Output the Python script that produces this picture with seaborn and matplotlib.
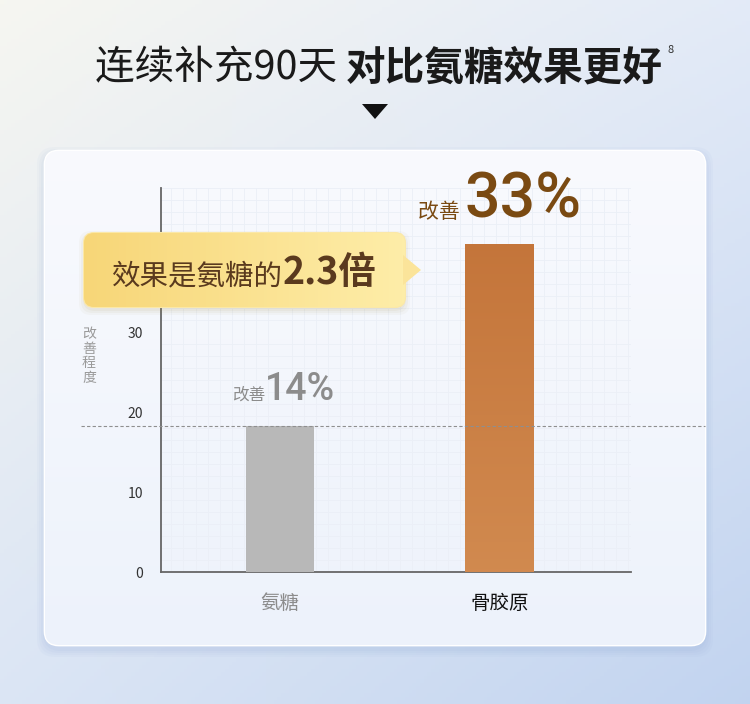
import numpy as np
import pandas as pd
import matplotlib.pyplot as plt
import seaborn as sns
from matplotlib.patches import FancyBboxPatch, Polygon
from matplotlib.ticker import MultipleLocator

# Data
categories = ["氨糖", "骨胶原"]
bar_heights = [18.2, 41.0]          # heights as drawn against the 0-30 axis
value_labels = ["14%", "33%"]
y_ticks = [0, 10, 20, 30]
title_left = "连续补充90天 "
title_right = "对比氨糖效果更好"
callout_text = "效果是氨糖的"
callout_value = "2.3倍"

sns.set_style("white")
plt.rcParams["font.family"] = ["Noto Sans CJK SC", "DejaVu Sans"]
NUM_FONT = ["Roboto", "Noto Sans CJK SC", "DejaVu Sans"]

W, H = 750, 704
fig = plt.figure(figsize=(7.5, 7.04), dpi=100)

# background axes in pixel coordinates (y down)
bg = fig.add_axes([0, 0, 1, 1], zorder=0)
bg.set_xlim(0, W)
bg.set_ylim(H, 0)
bg.axis("off")

# gradient background
xx, yy = np.meshgrid(np.linspace(0, 1, 200), np.linspace(0, 1, 200))
c_tl = np.array([0.965, 0.965, 0.945])
c_tr = np.array([0.89, 0.92, 0.97])
c_bl = np.array([0.86, 0.90, 0.96])
c_br = np.array([0.76, 0.83, 0.94])
img = (c_tl * ((1 - xx) * (1 - yy))[..., None] + c_tr * (xx * (1 - yy))[..., None]
       + c_bl * ((1 - xx) * yy)[..., None] + c_br * (xx * yy)[..., None])
bg.imshow(img, extent=(0, W, H, 0), aspect="auto", zorder=0)

# card with soft shadow
for i, a in enumerate([0.05, 0.05, 0.06, 0.07]):
    g = 8 - 2 * i
    bg.add_patch(FancyBboxPatch((45 - g, 151 - g + 4), 660 + 2 * g, 494 + 2 * g,
                                boxstyle="round,pad=0,rounding_size=18",
                                fc=(0.55, 0.65, 0.85, a), ec="none", zorder=1))
card = FancyBboxPatch((45, 151), 660, 494, boxstyle="round,pad=0,rounding_size=14",
                      fc="#f3f6fc", ec="#ffffff", lw=2, zorder=2)
bg.add_patch(card)
top_c = np.array([0.975, 0.98, 0.995])
bot_c = np.array([0.93, 0.95, 0.985])
cimg = np.linspace(0, 1, 100)[:, None, None] * (bot_c - top_c) + top_c
ci = bg.imshow(np.repeat(cimg, 2, axis=1), extent=(45, 705, 645, 151), aspect="auto", zorder=2)
ci.set_clip_path(card)

# chart axes
ax = fig.add_axes([161 / W, (H - 572) / H, 470 / W, (572 - 188) / H], zorder=1)
ax.patch.set_alpha(0)
df = pd.DataFrame({"cat": categories, "val": bar_heights})
sns.barplot(data=df, x="cat", y="val", hue="cat", palette=["#b8b8b8", "#c97d42"],
            width=0.31, legend=False, ax=ax, zorder=3, saturation=1, linewidth=0)
ax.set_xlim(-0.54, 1.6)
ax.set_ylim(0, 48)
ax.set_yticks(y_ticks)
ax.tick_params(axis="y", length=0, pad=13, labelsize=10, labelcolor="#333333")
ax.tick_params(axis="x", length=0, pad=15, labelsize=14)
ax.get_xticklabels()[0].set_color("#8c8c8c")
ax.get_xticklabels()[1].set_color("#111111")
ax.set_xlabel("")
ax.set_ylabel("")
for s in ["top", "right"]:
    ax.spines[s].set_visible(False)
for s in ["left", "bottom"]:
    ax.spines[s].set_color("#666666")
    ax.spines[s].set_linewidth(1.3)
ax.yaxis.set_minor_locator(MultipleLocator(1.5))
ax.xaxis.set_minor_locator(MultipleLocator(0.0547))
ax.tick_params(which="minor", length=0)
ax.grid(which="minor", color="#ebeff7", lw=0.6, zorder=0)
ax.set_axisbelow(True)

# orange bar gradient
p = ax.patches[1]
g_top = np.array([0.77, 0.46, 0.23])
g_bot = np.array([0.82, 0.54, 0.31])
grad = np.linspace(0, 1, 100)[:, None, None] * (g_bot - g_top) + g_top
bx = p.get_x()
gi = ax.imshow(np.repeat(grad, 2, axis=1), extent=(bx, bx + p.get_width(), 0, p.get_height()),
               aspect="auto", zorder=4, origin="upper")
gi.set_clip_path(p)
ax.set_xlim(-0.54, 1.6)
ax.set_ylim(0, 48)

# dashed reference line at the gray bar top
ax.axhline(bar_heights[0], xmin=-0.17, xmax=1.157, color="#8f8f8f", lw=0.8,
           ls=(0, (3, 2)), clip_on=False, zorder=5)

# overlay axes for text and callout
fg = fig.add_axes([0, 0, 1, 1], zorder=2)
fg.set_xlim(0, W)
fg.set_ylim(H, 0)
fg.axis("off")
fg.patch.set_alpha(0)


def seq_text(x, y, parts):
    r = fig.canvas.get_renderer()
    for s, kw in parts:
        t = fg.text(x, y, s, ha="left", va="baseline", zorder=10, **kw)
        x += t.get_window_extent(renderer=r).width
    return x


# title
end = seq_text(95, 79, [(title_left, dict(fontsize=28.5, color="#1a1a1a")),
                        (title_right, dict(fontsize=28.5, color="#1a1a1a", fontweight="bold"))])
fg.text(end + 4, 53, "8", fontsize=8, color="#333333", zorder=10)
fg.add_patch(Polygon([(362, 104), (388, 104), (375, 119)], closed=True, fc="#111111", ec="none", zorder=10))

# value labels
seq_text(232, 400, [("改善", dict(fontsize=12, color="#8c8c8c")),
                    (value_labels[0], dict(fontsize=27, color="#8c8c8c", fontweight="medium",
                                           family=NUM_FONT))])
seq_text(418, 218, [("改善 ", dict(fontsize=15, color="#7a4a12")),
                    (value_labels[1], dict(fontsize=45, color="#7a4a12", fontweight="medium",
                                           family=NUM_FONT))])

# y label (stacked characters)
fg.text(89, 356, "改\n善\n程\n度", fontsize=10, color="#9a9a9a", ha="center", va="center",
        linespacing=1.05, zorder=10)

# callout box
for i, a in enumerate([0.04, 0.05, 0.06]):
    g = 5 - 2 * i
    fg.add_patch(FancyBboxPatch((84 - g, 233 - g + 3), 321 + 2 * g, 74 + 2 * g,
                                boxstyle="round,pad=0,rounding_size=12",
                                fc=(0.6, 0.5, 0.2, a), ec="none", zorder=7))
box = FancyBboxPatch((84, 233), 321, 74, boxstyle="round,pad=0,rounding_size=10",
                     fc="#f8dc86", ec="#fbe8a8", lw=1.5, zorder=8)
fg.add_patch(box)
b_l = np.array([0.97, 0.84, 0.47])
b_r = np.array([0.995, 0.93, 0.66])
bgr = np.linspace(0, 1, 100)[None, :, None] * (b_r - b_l) + b_l
bi = fg.imshow(np.repeat(bgr, 2, axis=0), extent=(84, 405, 307, 233), aspect="auto", zorder=8)
bi.set_clip_path(box)
fg.add_patch(Polygon([(403, 255), (421, 270), (403, 285)], closed=True, fc="#fbe49a", ec="none", zorder=8))
seq_text(112, 284, [(callout_text, dict(fontsize=20.5, color="#5a3a1e", fontweight="medium")),
                    (callout_value, dict(fontsize=27, color="#5a3a1e", fontweight="bold"))])

fg.set_xlim(0, W)
fg.set_ylim(H, 0)
fig.savefig("out.png", dpi=100)
